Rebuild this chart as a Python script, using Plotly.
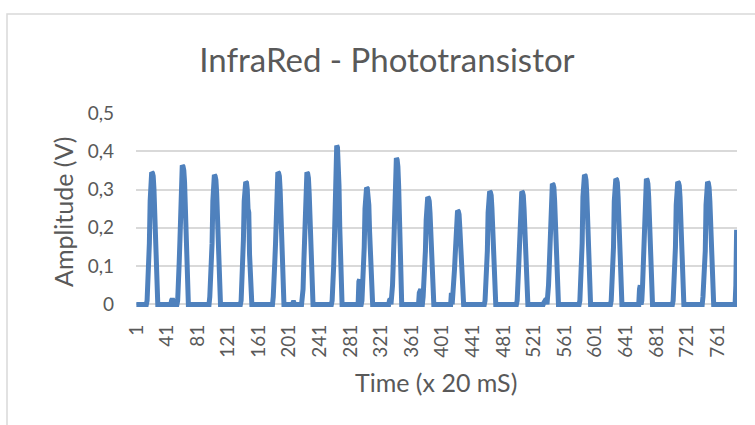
import plotly.graph_objects as go

N_SAMPLES = 786

# Pulses: (first sample index, sample values) ; signal is 0 elsewhere
PULSE_START = [15, 55, 97, 138, 180, 218, 257, 296, 335, 376, 415, 457, 499, 539, 581, 622, 662, 703, 742, 784]
PULSE_VALUES = [
    [0.01, 0.05, 0.12, 0.16, 0.27, 0.33, 0.345, 0.343, 0.335, 0.30, 0.22, 0.14, 0.07, 0.0],
    [0.01, 0.04, 0.11, 0.17, 0.29, 0.35, 0.363, 0.36, 0.35, 0.32, 0.24, 0.14, 0.06, 0.0],
    [0.02, 0.06, 0.12, 0.16, 0.27, 0.32, 0.338, 0.335, 0.325, 0.29, 0.21, 0.13, 0.05, 0.0],
    [0.01, 0.05, 0.12, 0.17, 0.27, 0.31, 0.32, 0.318, 0.30, 0.25, 0.24, 0.13, 0.05, 0.0],
    [0.02, 0.05, 0.11, 0.16, 0.28, 0.335, 0.345, 0.343, 0.335, 0.30, 0.22, 0.12, 0.05, 0.0],
    [0.02, 0.04, 0.11, 0.16, 0.28, 0.34, 0.345, 0.342, 0.33, 0.29, 0.21, 0.12, 0.04, 0.0],
    [0.01, 0.04, 0.10, 0.17, 0.30, 0.39, 0.415, 0.41, 0.38, 0.31, 0.20, 0.10, 0.03, 0.0],
    [0.01, 0.05, 0.11, 0.15, 0.25, 0.295, 0.305, 0.303, 0.29, 0.26, 0.19, 0.11, 0.04, 0.0],
    [0.02, 0.05, 0.11, 0.17, 0.30, 0.365, 0.382, 0.378, 0.36, 0.31, 0.22, 0.12, 0.04, 0.0],
    [0.02, 0.05, 0.10, 0.14, 0.22, 0.265, 0.28, 0.278, 0.27, 0.24, 0.18, 0.10, 0.03, 0.0],
    [0.03, 0.05, 0.09, 0.13, 0.20, 0.235, 0.245, 0.243, 0.235, 0.20, 0.15, 0.08, 0.03, 0.0],
    [0.01, 0.05, 0.10, 0.14, 0.24, 0.285, 0.295, 0.293, 0.285, 0.25, 0.19, 0.11, 0.04, 0.0],
    [0.01, 0.04, 0.10, 0.15, 0.25, 0.285, 0.295, 0.293, 0.285, 0.25, 0.19, 0.11, 0.04, 0.0],
    [0.02, 0.05, 0.10, 0.15, 0.26, 0.305, 0.315, 0.313, 0.305, 0.27, 0.20, 0.12, 0.04, 0.0],
    [0.01, 0.05, 0.11, 0.16, 0.28, 0.325, 0.338, 0.336, 0.325, 0.29, 0.22, 0.13, 0.05, 0.0],
    [0.01, 0.05, 0.10, 0.15, 0.27, 0.318, 0.328, 0.326, 0.318, 0.28, 0.21, 0.12, 0.04, 0.0],
    [0.01, 0.05, 0.10, 0.15, 0.27, 0.318, 0.328, 0.325, 0.315, 0.28, 0.21, 0.12, 0.04, 0.0],
    [0.01, 0.05, 0.10, 0.15, 0.26, 0.31, 0.32, 0.318, 0.31, 0.28, 0.21, 0.12, 0.04, 0.0],
    [0.02, 0.05, 0.10, 0.14, 0.26, 0.31, 0.32, 0.317, 0.305, 0.27, 0.20, 0.11, 0.04, 0.0],
    [0.0, 0.05, 0.195],
]

# Small bumps between pulses
BUMP_START = [47, 206, 292, 332, 371, 413, 534, 659]
BUMP_VALUES = [
    [0.01, 0.015, 0.01],
    [0.005, 0.005],
    [0.06, 0.065],
    [0.01, 0.015],
    [0.03, 0.04, 0.04],
    [0.03],
    [0.005, 0.01, 0.01, 0.015],
    [0.04, 0.05],
]

X_TICKS = [1, 41, 81, 121, 161, 201, 241, 281, 321, 361, 401, 441, 481, 521, 561, 601, 641, 681, 721, 761]
Y_TICKS = [0, 0.1, 0.2, 0.3, 0.4, 0.5]
Y_TICK_TEXT = ["0", "0,1", "0,2", "0,3", "0,4", "0,5"]

TITLE = "InfraRed - Phototransistor"
X_TITLE = "Time (x 20 mS)"
Y_TITLE = "Amplitude (V)"

x = list(range(1, N_SAMPLES + 1))
y = [0.0] * N_SAMPLES
for start, vals in list(zip(BUMP_START, BUMP_VALUES)) + list(zip(PULSE_START, PULSE_VALUES)):
    for k, v in enumerate(vals):
        if 1 <= start + k <= N_SAMPLES:
            y[start + k - 1] = v

TEXT = "#595959"
FONT = "Lato"

fig = go.Figure()
fig.add_trace(go.Scatter(x=x, y=y, mode="lines",
                         line=dict(color="#4f81bd", width=5),
                         hoverinfo="x+y", showlegend=False))

L, R, T, B = 136, 18, 113, 116
W, H = 755, 425
pw = W - L - R
ph = H - T - B

def px_x(p):
    return (p - L) / pw

def px_y(p):
    return (H - B - p) / ph

fig.update_layout(
    width=W, height=H,
    margin=dict(l=L, r=R, t=T, b=B, autoexpand=False),
    paper_bgcolor="white", plot_bgcolor="white",
    font=dict(family=FONT, color=TEXT),
    title=dict(text=TITLE, x=387 / W, xanchor="center", xref="container",
               y=1 - 60 / H, yanchor="middle",
               font=dict(family=FONT, size=33, color=TEXT)),
    xaxis=dict(range=[0.5, N_SAMPLES + 0.5], tickmode="array",
               tickvals=X_TICKS, ticktext=[str(v) for v in X_TICKS],
               tickangle=-90, showgrid=False, zeroline=False, showline=False,
               ticks="", tickfont=dict(size=19, color=TEXT, family=FONT),
               ticklabelstandoff=11, automargin=False),
    yaxis=dict(range=[-0.012, 0.5], tickmode="array", tickvals=Y_TICKS, ticktext=Y_TICK_TEXT,
               showgrid=True, gridcolor="#d9d9d9", gridwidth=1.6, zeroline=False,
               showline=False, ticks="", ticklabelstandoff=21, automargin=False,
               tickfont=dict(size=19, color=TEXT, family=FONT)),
    annotations=[
        dict(text=X_TITLE, xref="paper", yref="paper", x=px_x(436), y=px_y(382),
             xanchor="center", yanchor="middle", showarrow=False,
             font=dict(size=25, color=TEXT, family=FONT)),
        dict(text=Y_TITLE, xref="paper", yref="paper", x=px_x(63), y=px_y(212),
             xanchor="center", yanchor="middle", showarrow=False, textangle=-90,
             font=dict(size=25, color=TEXT, family=FONT)),
    ],
    shapes=[dict(type="rect", xref="paper", yref="paper",
                 x0=px_x(7), x1=px_x(765), y0=px_y(435), y1=px_y(14),
                 line=dict(color="#d9d9d9", width=1.5), fillcolor="rgba(0,0,0,0)", layer="below")],
)

fig.write_html("out.html", config={"displayModeBar": False},
               post_script="document.body.style.margin='0';document.body.style.overflow='hidden';")
